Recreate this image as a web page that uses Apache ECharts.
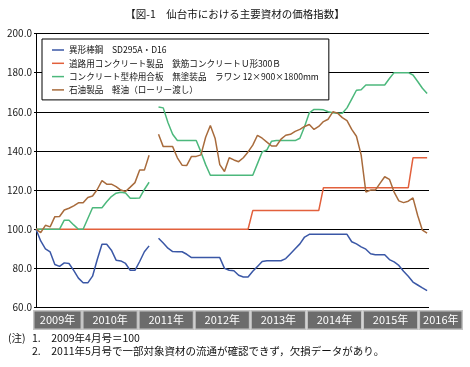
<!DOCTYPE html>
<html>
<head>
<meta charset="utf-8">
<script src="https://cdn.jsdelivr.net/npm/echarts@6/dist/echarts.min.js"></script>
<style>
html,body{margin:0;padding:0;background:#fff;}
#chart{width:470px;height:367px;}
</style>
</head>
<body>
<div id="chart"></div>
<script>
// Monthly index, 2009年4月号 = 100 ; index 0 = 2009-04 ... 83 = 2016-03
var seriesNames = [
  '異形棒鋼　SD295A・D16',
  '道路用コンクリート製品　鉄筋コンクリートＵ形300Ｂ',
  'コンクリート型枠用合板　無塗装品　ラワン 12×900×1800mm',
  '石油製品　軽油（ローリー渡し）'
];
var rebar = [100,94,90,88.4,82,81,82.8,82.5,79,75,72.6,72.6,76,84.5,92.3,92.3,89.3,84.2,83.8,82.5,79,79,83.5,88.5,91.5,null,
  95.4,93,90.3,88.6,88.5,88.5,87.2,85.5,85.5,85.5,85.5,85.5,85.5,85.5,80,79,78.8,76.5,75.6,75.6,78.5,81,83.5,83.9,83.9,83.9,83.9,
  85,87.5,90,92.5,96,97.4,97.4,97.4,97.4,97.4,97.4,97.4,97.4,97.4,93.6,92.5,91,89.8,87.5,87,87,87,84.5,83.3,81.5,78.5,76,73,71.5,70,68.6];
var concrete = [100,100,100,100,100,100,100,100,100,100,100,100,100,100,100,100,100,100,100,100,100,100,100,100,100,100,
  100,100,100,100,100,100,100,100,100,100,100,100,100,100,100,100,100,100,100,100,109.5,109.5,109.5,109.5,109.5,109.5,109.5,109.5,
  109.5,109.5,109.5,109.5,109.5,109.5,109.5,121.2,121.2,121.2,121.2,121.2,121.2,121.2,121.2,121.2,121.2,121.2,121.2,121.2,121.2,
  121.2,121.2,121.2,121.2,121.2,136.5,136.5,136.5,136.5];
var plywood = [100,100,100,100,100,100,104.6,104.6,102.2,100,100,105.5,111,111,111,114,116.7,118.4,118.9,118.5,115.8,115.8,116,120.3,124,null,
  162.5,162,154.5,148.5,145.3,145.3,145.3,145.3,145.3,139.5,133,127.6,127.6,127.6,127.6,127.6,127.6,127.6,127.6,127.6,127.6,
  133.5,139.5,140.5,145,145.3,145.3,145.3,145.3,145.3,146.5,152.5,159.5,161.2,161.2,161,160,159.5,159.2,159.2,162,166.5,171,171.3,
  173.7,173.7,173.7,173.7,173.7,177,180,180,180,180,178.8,175.5,172,169.3];
var diesel = [100,98.3,102,101.2,106.4,106.5,109.8,110.7,111.9,113.5,113.5,116.2,117,120.3,124.8,123,123,121.8,120,119.3,121.5,123.8,130.2,130.2,137.8,null,
  148.5,142.2,142.2,142.2,136.5,132.7,132.6,137.2,137.2,138,147,153,146.5,133,129.5,136.5,135.4,134.5,136.5,139.5,143,148,146.5,144.5,
  142.5,142.5,146,148,148.5,150,151,152.5,153.5,151,152.5,155,156.2,160,159.3,157,155.5,151,147.5,138,119,120,120,123.4,126.8,125.5,
  119,114.5,113.6,114.3,116,107,99.5,98];
var yearLabels = ['2009年','2010年','2011年','2012年','2013年','2014年','2015年','2016年'];
var yearSpans = [10.5,12,12,12,12,12,12,9.5]; // months covered by each year cell
var yTicks = [60,80,100,120,140,160,180,200];

var colors = ['#3a57a6','#e2603c','#4cb87c','#a86b3c'];
var allData = [rebar, concrete, plywood, diesel];

function toPairs(arr){ return arr.map(function(v,i){ return [i, v]; }); }

var series = [];
for (var k = 0; k < 4; k++) {
  series.push({
    name: seriesNames[k], type: 'line', xAxisIndex: 0, yAxisIndex: 0,
    data: toPairs(allData[k]), symbol: 'none', connectNulls: false,
    lineStyle: {color: colors[k], width: 1.5}, itemStyle: {color: colors[k]}, z: 3
  });
}
var spanTotal = 0;
for (var j = 0; j < yearSpans.length; j++) {
  spanTotal += yearSpans[j];
  series.push({
    name: yearLabels[j], type: 'bar', stack: 'band', xAxisIndex: 1, yAxisIndex: 1,
    data: [yearSpans[j]], barWidth: '100%',
    itemStyle: {color: '#6c6c6c', borderColor: '#c4c4c4', borderWidth: 1.5},
    label: {show: true, position: 'inside', formatter: yearLabels[j], color: '#fff', fontSize: 11,
      fontFamily: 'Noto Sans CJK JP'},
    silent: true
  });
}

var chart = echarts.init(document.getElementById('chart'), null, {renderer: 'canvas'});
chart.setOption({
  animation: false,
  backgroundColor: '#fff',
  textStyle: {fontFamily: 'Noto Sans CJK JP'},
  title: [
    {text: '【図-1　仙台市における主要資材の価格指数】', left: 'center', top: 9, padding: 0,
      textStyle: {fontSize: 10.5, fontWeight: 'normal', color: '#111', fontFamily: 'Noto Sans CJK JP'}},
    {text: '(注)', left: 8, top: 333, padding: 0,
      textStyle: {fontSize: 10.5, fontWeight: 'normal', color: '#111', fontFamily: 'Noto Sans CJK JP'}},
    {text: '1.　2009年4月号＝100', left: 32, top: 333, padding: 0,
      textStyle: {fontSize: 10.5, fontWeight: 'normal', color: '#111', fontFamily: 'Noto Sans CJK JP'}},
    {text: '2.　2011年5月号で一部対象資材の流通が確認できず，欠損データがあり。', left: 32, top: 346, padding: 0,
      textStyle: {fontSize: 10.5, fontWeight: 'normal', color: '#111', fontFamily: 'Noto Sans CJK JP'}}
  ],
  legend: {
    data: seriesNames, orient: 'vertical', left: 42, top: 39,
    padding: [6, 10, 5, 10], itemGap: 3.3, itemWidth: 12, itemHeight: 1.5, icon: 'rect',
    backgroundColor: '#fff', borderColor: '#000', borderWidth: 1, borderRadius: 0,
    textStyle: {fontSize: 8.6, color: '#111', fontFamily: 'Noto Sans CJK JP', lineHeight: 10},
    z: 10
  },
  grid: [
    {left: 36, right: 41, top: 33.5, bottom: 59.5},
    {left: 33, right: 7, top: 310, height: 20}
  ],
  xAxis: [
    {type: 'value', gridIndex: 0, min: 0, max: 83.4, show: false},
    {type: 'value', gridIndex: 1, min: 0, max: spanTotal, show: false}
  ],
  yAxis: [
    {type: 'value', gridIndex: 0, min: yTicks[0], max: yTicks[yTicks.length-1], interval: 20,
      axisLine: {show: true, lineStyle: {color: '#000', width: 1}},
      axisTick: {show: true, length: 2, lineStyle: {color: '#000'}},
      splitLine: {show: true, lineStyle: {color: '#000', width: 1}},
      axisLabel: {formatter: function(v){ return v.toFixed(1); }, fontSize: 10, color: '#222', margin: 4,
        fontFamily: 'Noto Sans CJK JP'}},
    {type: 'category', gridIndex: 1, data: ['year'], show: false}
  ],
  series: series
});
</script>
</body>
</html>
